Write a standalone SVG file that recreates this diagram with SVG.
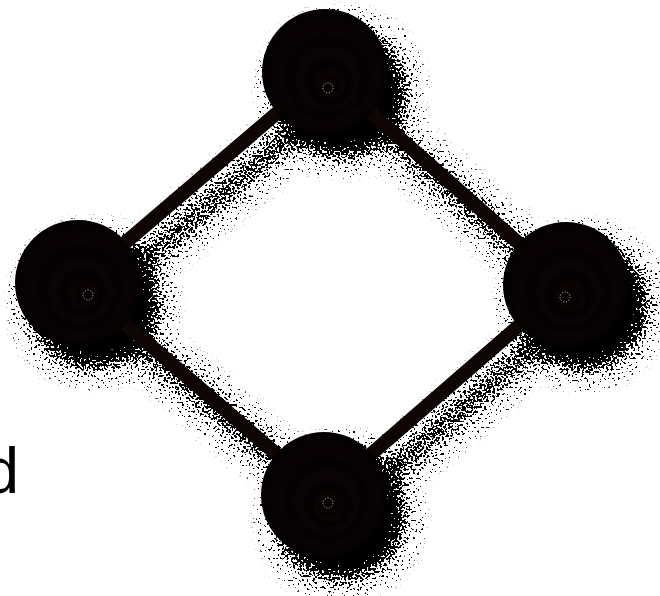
<svg xmlns="http://www.w3.org/2000/svg" xmlns:xlink="http://www.w3.org/1999/xlink" width="660" height="596" viewBox="0 0 660 596">
<style>
.edge{stroke:#0f0505;stroke-width:14;stroke-linecap:round;fill:none}
.ball{fill:url(#rg)}
.mk{fill:none;stroke:#d8d0d0;stroke-width:0.9;stroke-dasharray:1.2 1.6}
.lbl{font-family:"Liberation Sans",Arial,sans-serif;font-size:64px;fill:#000}
</style>
<defs>
<radialGradient id="rg" cx="0.5" cy="0.5" r="0.5" fx="0.55" fy="0.62" spreadMethod="pad">
<stop offset="0" stop-color="#000"/>
<stop offset="0.2" stop-color="#0c0303"/>
<stop offset="0.3" stop-color="#020000"/>
<stop offset="0.45" stop-color="#0c0404"/>
<stop offset="0.6" stop-color="#030101"/>
<stop offset="0.75" stop-color="#0b0303"/>
<stop offset="1" stop-color="#040101"/>
</radialGradient>
<filter id="sh" x="-30%" y="-30%" width="160%" height="160%">
<feGaussianBlur in="SourceAlpha" stdDeviation="12" result="b"/>
<feOffset in="b" dx="16" dy="20" result="o"/>
<feTurbulence type="fractalNoise" baseFrequency="0.45" numOctaves="1" seed="7" result="n"/>
<feColorMatrix in="n" type="matrix" values="0 0 0 0 0  0 0 0 0 0  0 0 0 0 0  2.4 0 0 0 -0.75" result="na"/>
<feComposite in="o" in2="na" operator="arithmetic" k1="0" k2="1.2" k3="-1" k4="0" result="d"/>
<feComponentTransfer in="d"><feFuncA type="linear" slope="40" intercept="0"/></feComponentTransfer>
</filter>
</defs>
<rect width="660" height="596" fill="#fff"/>
<g filter="url(#sh)">
<use xlink:href="#connectors"/>
<use xlink:href="#nodes"/>
</g>
<g id="connectors">
<line class="edge" x1="325" y1="72" x2="78" y2="283"/>
<line class="edge" x1="325" y1="72" x2="566" y2="285"/>
<line class="edge" x1="78" y1="283" x2="324" y2="495"/>
<line class="edge" x1="566" y1="285" x2="324" y2="495"/>
</g>
<g id="nodes">
<g id="node-top"><circle class="ball" cx="325" cy="72" r="63"/><circle class="mk" cx="328" cy="88" r="5"/></g>
<g id="node-left"><circle class="ball" cx="78" cy="283" r="63"/><circle class="mk" cx="88" cy="295" r="5"/></g>
<g id="node-right"><circle class="ball" cx="566" cy="285" r="63"/><circle class="mk" cx="565" cy="297" r="5"/></g>
<g id="node-bottom"><circle class="ball" cx="324" cy="495" r="63"/><circle class="mk" cx="328" cy="503" r="5"/></g>
</g>
<text class="lbl" x="19" y="493" text-anchor="end">d</text>
</svg>
